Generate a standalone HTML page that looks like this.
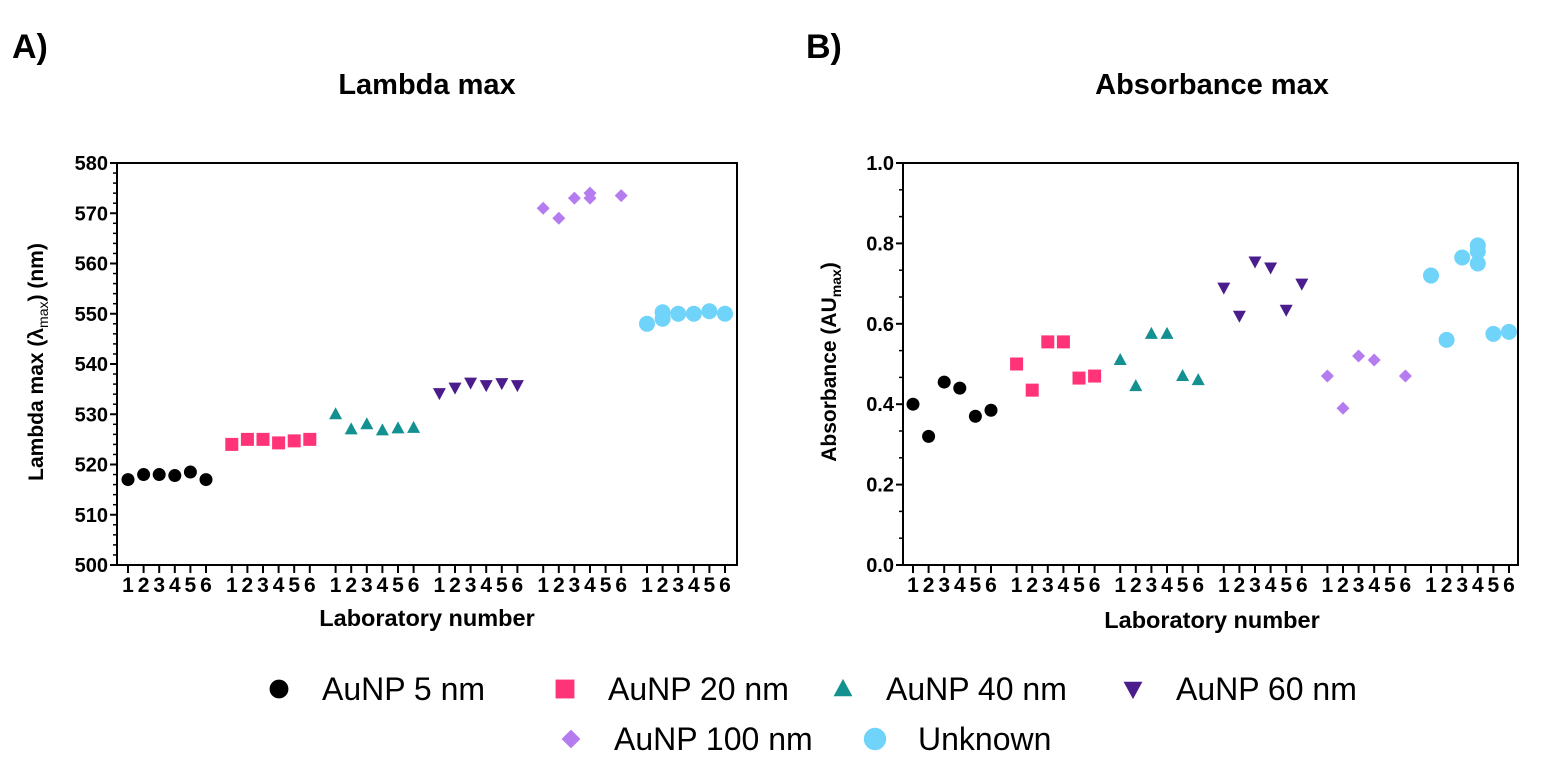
<!DOCTYPE html>
<html><head><meta charset="utf-8"><style>
body{margin:0;background:#fff;}
svg text{font-family:"Liberation Sans",Arial,sans-serif;}
</style></head><body>
<svg id="fig" width="1548" height="768" viewBox="0 0 1548 768" xmlns="http://www.w3.org/2000/svg">
<text x="12" y="58" font-size="34" font-weight="bold">A)</text>
<text x="427" y="94" font-size="29" font-weight="bold" text-anchor="middle">Lambda max</text>
<text x="806" y="58" font-size="34" font-weight="bold">B)</text>
<text x="1212" y="94" font-size="29" font-weight="bold" text-anchor="middle">Absorbance max</text>
<text transform="translate(43,362) rotate(-90)" font-size="21" font-weight="bold" text-anchor="middle">Lambda max (λ<tspan font-size="14" font-weight="normal" dy="5">max</tspan><tspan dy="-5">) (nm)</tspan></text>
<text transform="translate(836,362) rotate(-90)" font-size="21" font-weight="bold" text-anchor="middle">Absorbance (AU<tspan font-size="14" dy="5">max</tspan><tspan dy="-5">)</tspan></text>
<text x="427" y="626" font-size="23.5" font-weight="bold" text-anchor="middle">Laboratory number</text>
<text x="1212" y="628" font-size="23.5" font-weight="bold" text-anchor="middle">Laboratory number</text>
<g id="ga"></g><g id="gb"></g><g id="legend"></g>
</svg>
<script>
const NS="http://www.w3.org/2000/svg";
const seriesNames=["AuNP 5 nm","AuNP 20 nm","AuNP 40 nm","AuNP 60 nm","AuNP 100 nm","Unknown"];
const seriesColors=["#000000","#ff3377","#139090","#4b1d8c","#b57cf0","#6fd3fa"];
const seriesShapes=["circle","square","tri","dtri","diamond","bigcircle"];
const labs=[1,2,3,4,5,6];
// Panel A: lambda max; each entry [lab, value]
const lambda5=[[1,517],[2,518],[3,518],[4,517.8],[5,518.5],[6,517]];
const lambda20=[[1,524],[2,525],[3,525],[4,524.3],[5,524.7],[6,525]];
const lambda40=[[1,530],[2,527],[3,528],[4,526.8],[5,527.2],[6,527.3]];
const lambda60=[[1,534.2],[2,535.3],[3,536.3],[4,535.8],[5,536.2],[6,535.8]];
const lambda100=[[1,571],[2,569],[3,573],[4,574],[4,573],[6,573.5]];
const lambdaUnk=[[1,548],[2,549],[2,550.3],[3,550],[4,550],[5,550.5],[6,550]];
const lambdaTicks=[500,510,520,530,540,550,560,570,580];
// Panel B: absorbance max
const abs5=[[1,0.40],[2,0.32],[3,0.455],[4,0.44],[5,0.37],[6,0.385]];
const abs20=[[1,0.50],[2,0.435],[3,0.555],[4,0.555],[5,0.465],[6,0.47]];
const abs40=[[1,0.51],[2,0.445],[3,0.575],[4,0.575],[5,0.47],[6,0.46]];
const abs60=[[1,0.69],[2,0.62],[3,0.755],[4,0.74],[5,0.635],[6,0.70]];
const abs100=[[1,0.47],[2,0.39],[3,0.52],[4,0.51],[6,0.47]];
const absUnk=[[1,0.72],[2,0.56],[3,0.765],[4,0.75],[4,0.78],[4,0.795],[5,0.575],[6,0.58]];
const absTicks=["0.0","0.2","0.4","0.6","0.8","1.0"];

function mk(tag,attrs,parent){const e=document.createElementNS(NS,tag);for(const k in attrs)e.setAttribute(k,attrs[k]);parent.appendChild(e);return e;}
function marker(g,shape,x,y,c,s){
  let e;
  if(shape==="circle") e=mk("circle",{cx:x,cy:y,r:6.5*s,fill:c},g);
  else if(shape==="bigcircle") e=mk("circle",{cx:x,cy:y,r:8*s,fill:c},g);
  else if(shape==="square") e=mk("rect",{x:x-6.5*s,y:y-6.5*s,width:13*s,height:13*s,fill:c},g);
  else if(shape==="tri") e=mk("polygon",{points:`${x},${y-7*s} ${x+6.5*s},${y+5*s} ${x-6.5*s},${y+5*s}`,fill:c},g);
  else if(shape==="dtri") e=mk("polygon",{points:`${x-6.5*s},${y-5*s} ${x+6.5*s},${y-5*s} ${x},${y+7*s}`,fill:c},g);
  else e=mk("polygon",{points:`${x},${y-6.5*s} ${x+6.5*s},${y} ${x},${y+6.5*s} ${x-6.5*s},${y}`,fill:c},g);
  return e;
}
function panel(gid,cfg,data){
  const g=document.getElementById(gid);
  const {x0,x1,top,bot,ymin,ymax,firstX,step,groupStep,minors,ticks,name}=cfg;
  const ys=v=>bot-(v-ymin)/(ymax-ymin)*(bot-top);
  const xs=(gi,l)=>firstX+gi*groupStep+(l-1)*step;
  const frame=mk("rect",{x:x0,y:top,width:x1-x0,height:bot-top,fill:"none",stroke:"#000","stroke-width":2},g);
  
  
  for(let i=0;i<ticks.length;i++){
    const v=ymin+(ymax-ymin)*i/(ticks.length-1);
    const y=ys(v);
    mk("line",{x1:x0-7,x2:x0,y1:y,y2:y,stroke:"#000","stroke-width":2},g);
    const t=mk("text",{x:x0-9,y:y+7,"font-size":20,"font-weight":"bold","text-anchor":"end"},g);
    t.textContent=ticks[i];
    
    
    if(i<ticks.length-1){
      const nv=ymin+(ymax-ymin)*(i+1)/(ticks.length-1);
      for(let m=1;m<=minors;m++){
        const my=ys(v+(nv-v)*m/(minors+1));
        mk("line",{x1:x0-4,x2:x0,y1:my,y2:my,stroke:"#000","stroke-width":1.5},g);
      }
    }
  }
  for(let gi=0;gi<6;gi++){
    for(const l of labs){
      const x=xs(gi,l);
      mk("line",{x1:x,x2:x,y1:bot,y2:bot+8,stroke:"#000","stroke-width":2},g);
      const t=mk("text",{x:x,y:bot+27,"font-size":21,"font-weight":"bold","text-anchor":"middle"},g);
      t.textContent=l;
      
      
    }
  }
  data.forEach((ser,gi)=>{
    ser.forEach(([l,v])=>{
      const e=marker(g,seriesShapes[gi],xs(gi,l),ys(v),seriesColors[gi],1);
      
      
    });
  });
}
panel("ga",{x0:117,x1:737,top:163,bot:565,ymin:500,ymax:580,firstX:128,step:15.6,groupStep:103.8,minors:4,ticks:lambdaTicks,name:"lambda"},
  [lambda5,lambda20,lambda40,lambda60,lambda100,lambdaUnk]);
panel("gb",{x0:903,x1:1518,top:163,bot:565,ymin:0,ymax:1,firstX:913,step:15.6,groupStep:103.6,minors:2,ticks:absTicks,name:"absorbance"},
  [abs5,abs20,abs40,abs60,abs100,absUnk]);
const lg=document.getElementById("legend");
const legPos=[[279,689],[565,689],[843,689],[1133,689],[571,739],[875,739]];
seriesNames.forEach((n,i)=>{
  const [x,y]=legPos[i];
  const m=marker(lg,seriesShapes[i],x,y,seriesColors[i],i===5?1.4:1.45);
  
  
  const t=mk("text",{x:x+43,y:y+11,"font-size":32},lg);
  t.textContent=n;
  
  
});
</script>
</body></html>
